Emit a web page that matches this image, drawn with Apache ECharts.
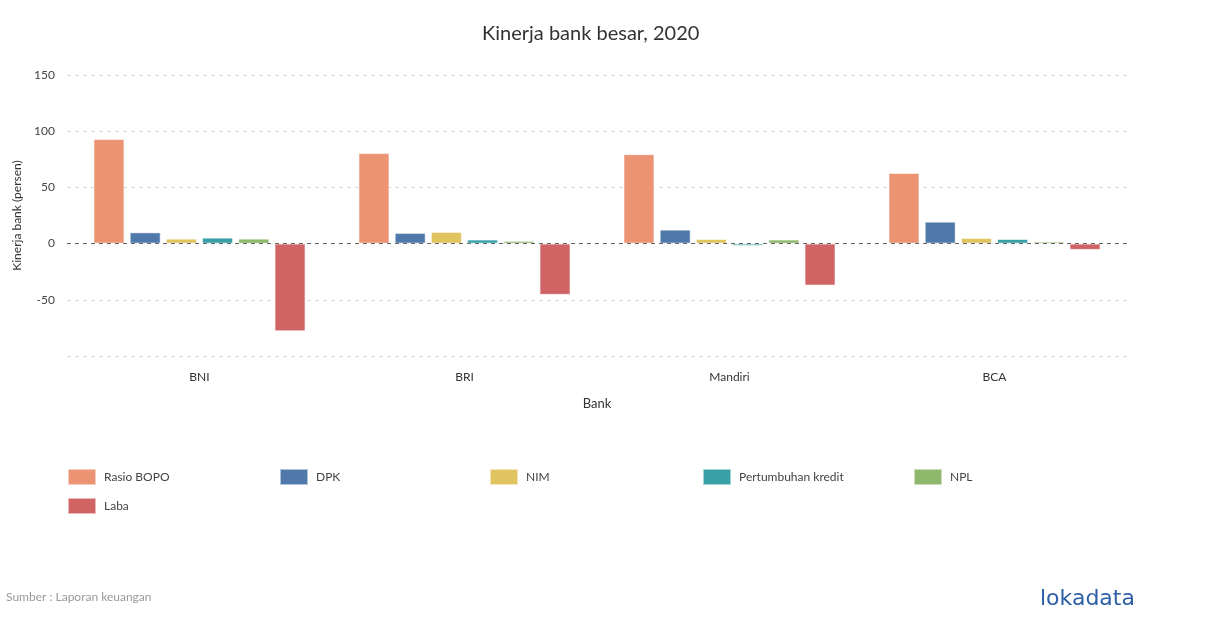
<!DOCTYPE html>
<html>
<head>
<meta charset="utf-8">
<script src="https://cdn.jsdelivr.net/npm/echarts@6/dist/echarts.min.js"></script>
<style>
html,body{margin:0;padding:0;background:#fff;}
#chart{width:1210px;height:628px;}
</style>
</head>
<body>
<div id="chart"></div>
<script>
const categories = ['BNI', 'BRI', 'Mandiri', 'BCA'];
const seriesNames = ['Rasio BOPO', 'DPK', 'NIM', 'Pertumbuhan kredit', 'NPL', 'Laba'];
const rasioBOPO = [93, 80.5, 79.6, 62.8];
const dpk = [10, 9.5, 12.4, 19.5];
const nim = [4.4, 10.4, 4.1, 5];
const pertumbuhanKredit = [5.3, 3.6, -2, 4.1];
const npl = [4.4, 2.4, 3.6, 1.8];
const laba = [-78, -45.6, -37.3, -5.6];
const yTicks = [-100, -50, 0, 50, 100, 150];
const colors = ['#EB9373', '#5079AB', '#DFC45F', '#37A0A7', '#8EB86B', '#D06464'];

const allValues = [rasioBOPO, dpk, nim, pertumbuhanKredit, npl, laba];
const font = 'Lato, "Open Sans", sans-serif';

const legendPos = [[62, 463], [274, 463], [484, 463], [697, 463], [908, 463], [62, 492]];

const chart = echarts.init(document.getElementById('chart'));
chart.setOption({
  animation: false,
  color: colors,
  textStyle: { fontFamily: font },
  title: {
    text: 'Kinerja bank besar, 2020',
    left: 477,
    top: 19,
    textStyle: { fontFamily: font, fontSize: 20, fontWeight: 'normal', color: '#333' }
  },
  grid: { left: 67, right: 83, top: 75, bottom: 272, containLabel: false },
  legend: seriesNames.map((n, i) => ({
    left: legendPos[i][0],
    top: legendPos[i][1],
    itemWidth: 28,
    itemHeight: 16,
    icon: 'rect',
    textStyle: { fontFamily: font, fontSize: 12, color: '#444', padding: [0, 0, 0, 3] },
    data: [n]
  })),
  xAxis: {
    type: 'category',
    data: categories,
    name: 'Bank',
    nameLocation: 'middle',
    nameGap: 41,
    nameTextStyle: { fontFamily: font, fontSize: 13, color: '#333' },
    axisLine: { show: false, onZero: false },
    axisTick: { show: false },
    axisLabel: { fontFamily: font, fontSize: 12, color: '#333', margin: 15 }
  },
  yAxis: {
    type: 'value',
    min: -100,
    max: 150,
    interval: 50,
    name: 'Kinerja bank (persen)',
    nameLocation: 'middle',
    nameGap: 41,
    nameRotate: 90,
    nameTextStyle: { fontFamily: font, fontSize: 12, color: '#333' },
    axisLine: { show: false },
    axisTick: { show: false },
    axisLabel: {
      fontFamily: font, fontSize: 12, color: '#444', margin: 12,
      formatter: v => (v === yTicks[0] ? '' : String(v))
    },
    splitLine: { show: true, lineStyle: { color: '#d4d4d4', type: [4, 4], width: 1 } }
  },
  series: seriesNames.map((n, i) => ({
    name: n,
    type: 'bar',
    data: allValues[i],
    barGap: '17%',
    barCategoryGap: '20%',
    itemStyle: { borderColor: 'rgba(255,255,255,0.55)', borderWidth: 1 },
    markLine: i === 0 ? {
      silent: true,
      symbol: 'none',
      label: { show: false },
      lineStyle: { color: '#666', type: [4, 4], width: 1 },
      data: [{ yAxis: 0 }],
      z: 10
    } : undefined
  })),
  graphic: [
    {
      type: 'text', left: 6, top: 591,
      style: { text: 'Sumber : Laporan keuangan', fontFamily: font, fontSize: 12, fill: '#999' }
    },
    {
      type: 'text', left: 1040, top: 588,
      style: { text: 'lokadata', fontFamily: '"DejaVu Sans", sans-serif', fontSize: 22, fill: '#2D5FA6' }
    }
  ]
});
</script>
</body>
</html>
